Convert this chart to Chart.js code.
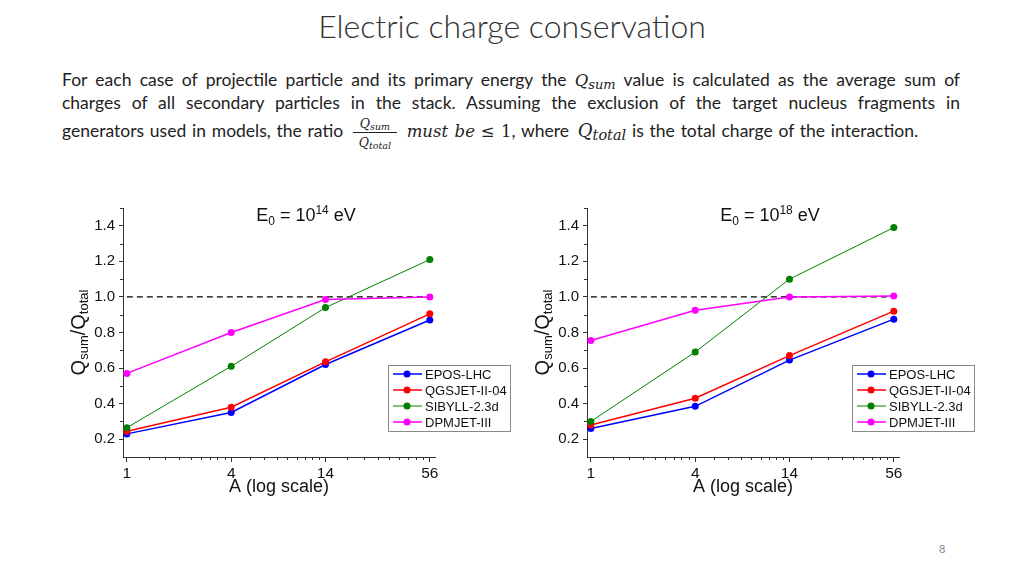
<!DOCTYPE html>
<html>
<head>
<meta charset="utf-8">
<script src="https://cdn.jsdelivr.net/npm/chart.js@4.4.0/dist/chart.umd.min.js"></script>
<style>
    body { margin: 0; width: 1024px; height: 576px; background: #fff; position: relative; overflow: hidden; font-family: Lato, sans-serif; color: #222; }
    #titulo { position: absolute; top: 6px; left: 0; width: 1024px; text-align: center; font-weight: 300; font-size: 32px; color: #333; }
    .linea { position: absolute; left: 62px; width: 898px; font-size: 17.5px; line-height: 20px; }
    .just { text-align: justify; text-align-last: justify; }
    .m { font-family: "DejaVu Serif", serif; font-style: italic; font-size: 16.5px; }
    .m sub { font-size: 13px; position: relative; top: 3px; vertical-align: baseline; }
    .qt { font-size: 18px; margin-left: 3px; }
    .qt sub { font-size: 14.5px; }
    .frac { display: inline-block; position: relative; width: 44px; height: 0; margin: 0 4px 0 4px; }
    .num { position: absolute; left: 0; right: 0; bottom: 4px; text-align: center; line-height: 15px; border-bottom: 1px solid #222; font-size: 12.5px; }
    .den { position: absolute; left: 0; right: 0; top: -2px; text-align: center; line-height: 15px; font-size: 12.5px; }
    .frac sub { font-size: 9.5px; top: 2px; }
    canvas { position: absolute; }
    #pagina { position: absolute; left: 939px; top: 542px; font-size: 11px; color: #888; }
</style>
</head>
<body>
<div id="titulo">Electric charge conservation</div>
<div class="linea just" style="top:70px">For each case of projectile particle and its primary energy the <span class="m">Q<sub>sum</sub></span> value is calculated as the average sum of</div>
<div class="linea just" style="top:93px">charges of all secondary particles in the stack. Assuming the exclusion of the target nucleus fragments in</div>
<div class="linea" style="top:121px; word-spacing:1.3px">generators used in models, the ratio <span class="frac m"><span class="num">Q<sub>sum</sub></span><span class="den">Q<sub>total</sub></span></span> <span class="m">must be</span> <span class="m" style="font-style:normal">≤ 1</span>, where <span class="m qt">Q<sub>total</sub></span> is the total charge of the interaction.</div>

<canvas id="grafica14" width="460" height="310" style="left:60px; top:195px"></canvas>
<canvas id="grafica18" width="460" height="310" style="left:524px; top:195px"></canvas>
<div id="pagina">8</div>

<script>
// numero masico del proyectil
const numerosMasicos = [1, 4, 14, 56];
const modelos = ["EPOS-LHC", "QGSJET-II-04", "SIBYLL-2.3d", "DPMJET-III"];
const colores = ["#0000ff", "#ff0000", "#008000", "#ff00ff"];
const grosores = [1.5, 1.5, 1, 1.5];

// Qsum/Qtotal, E0 = 10^14 eV
const epos14 = [0.23, 0.35, 0.62, 0.87];
const qgsjet14 = [0.245, 0.38, 0.635, 0.905];
const sibyll14 = [0.265, 0.61, 0.94, 1.21];
const dpmjet14 = [0.57, 0.80, 0.985, 1.0];

// Qsum/Qtotal, E0 = 10^18 eV
const epos18 = [0.26, 0.385, 0.645, 0.875];
const qgsjet18 = [0.28, 0.43, 0.67, 0.92];
const sibyll18 = [0.30, 0.69, 1.10, 1.39];
const dpmjet18 = [0.755, 0.925, 1.0, 1.005];

// linea de referencia Qsum/Qtotal = 1
const limiteX = [1, 56];
const limiteY = [1.0, 1.0];

const ticksX = [1, 4, 14, 56];
const ticksY = [0.2, 0.4, 0.6, 0.8, 1.0, 1.2, 1.4];
const menoresY = [0.3, 0.5, 0.7, 0.9, 1.1, 1.3, 1.5];

Chart.defaults.font.family = '"Liberation Sans", Arial, sans-serif';
Chart.defaults.color = "#111";

function textoRico(ctx, partes, cx, cy) {
    let ancho = 0;
    partes.forEach(p => {
        ctx.font = p.tam + 'px "Liberation Sans"';
        ancho += ctx.measureText(p.t).width;
    });
    let x = cx - ancho / 2;
    partes.forEach(p => {
        ctx.font = p.tam + 'px "Liberation Sans"';
        ctx.fillText(p.t, x, cy + p.dy);
        x += ctx.measureText(p.t).width;
    });
}

const ticksMenores = {
    id: "ticksMenores",
    afterDraw(chart) {
        const ctx = chart.ctx;
        const x = chart.scales.x;
        const y = chart.scales.y;
        ctx.save();
        ctx.strokeStyle = "#333";
        ctx.lineWidth = 1;
        ctx.beginPath();
        for (let i = 0; i < ticksX.length - 1; i++) {
            const paso = (ticksX[i + 1] - ticksX[i]) / 9;
            for (let k = 1; k < 9; k++) {
                const px = Math.round(x.getPixelForValue(ticksX[i] + k * paso)) + 0.5;
                ctx.moveTo(px, y.bottom);
                ctx.lineTo(px, y.bottom + 3);
            }
        }
        menoresY.forEach(v => {
            const py = Math.round(y.getPixelForValue(v)) + 0.5;
            ctx.moveTo(x.left, py);
            ctx.lineTo(x.left - 3, py);
        });
        ctx.stroke();
        ctx.restore();
    }
};

const leyenda = {
    id: "leyenda",
    afterDraw(chart) {
        const ctx = chart.ctx;
        const area = chart.chartArea;
        const bx = area.left + 265, by = area.top + 157, bw = 122, bh = 66;
        ctx.save();
        ctx.fillStyle = "#fff";
        ctx.fillRect(bx, by, bw, bh);
        ctx.strokeStyle = "#888";
        ctx.lineWidth = 1;
        ctx.strokeRect(bx + 0.5, by + 0.5, bw, bh);
        ctx.font = '13px "Liberation Sans"';
        ctx.textBaseline = "middle";
        let fila = 0;
        chart.data.datasets.forEach(ds => {
            if (!ds.enLeyenda) return;
            const cy = by + 9 + 16 * fila;
            ctx.strokeStyle = ds.borderColor;
            ctx.lineWidth = ds.borderWidth;
            ctx.beginPath();
            ctx.moveTo(bx + 5, cy);
            ctx.lineTo(bx + 34, cy);
            ctx.stroke();
            ctx.fillStyle = ds.borderColor;
            ctx.beginPath();
            ctx.arc(bx + 19, cy, 3.5, 0, Math.PI * 2);
            ctx.fill();
            ctx.fillStyle = "#111";
            ctx.fillText(ds.label, bx + 37, cy + 1);
            fila++;
        });
        ctx.restore();
    }
};

const titulos = {
    id: "titulos",
    afterDraw(chart, args, opts) {
        const ctx = chart.ctx;
        const area = chart.chartArea;
        ctx.save();
        ctx.fillStyle = "#111";
        ctx.textBaseline = "alphabetic";
        ctx.textAlign = "left";
        textoRico(ctx, [
            { t: "E", tam: 18, dy: 0 },
            { t: "0", tam: 12, dy: 4 },
            { t: " = 10", tam: 18, dy: 0 },
            { t: opts.exponente, tam: 12, dy: -7 },
            { t: " eV", tam: 18, dy: 0 }
        ], area.left + 183, area.top + 13);
        ctx.translate(area.left - 38, (area.top + area.bottom) / 2);
        ctx.rotate(-Math.PI / 2);
        textoRico(ctx, [
            { t: "Q", tam: 20, dy: 0 },
            { t: "sum", tam: 13, dy: 3 },
            { t: "/Q", tam: 20, dy: 0 },
            { t: "total", tam: 13, dy: 3 }
        ], 0, 0);
        ctx.restore();
    }
};

function puntos(valores) {
    return numerosMasicos.map((a, i) => ({ x: a, y: valores[i] }));
}

function crearGrafica(id, exponente, series) {
    const datasets = [{
        label: "limite",
        data: limiteX.map((a, i) => ({ x: a, y: limiteY[i] })),
        borderColor: "#000",
        borderWidth: 1.2,
        borderDash: [6, 4],
        pointRadius: 0,
        order: 10
    }];
    series.forEach((valores, i) => {
        datasets.push({
            label: modelos[i],
            data: puntos(valores),
            borderColor: colores[i],
            backgroundColor: colores[i],
            borderWidth: grosores[i],
            pointRadius: 3.5,
            pointBorderWidth: 0,
            pointHoverRadius: 3.5,
            order: 4 - i,
            enLeyenda: true
        });
    });

    new Chart(document.getElementById(id), {
        type: "line",
        data: { datasets: datasets },
        options: {
            responsive: false,
            animation: false,
            devicePixelRatio: 1,
            layout: { padding: { left: 0, top: 10, right: 85, bottom: 0 } },
            plugins: {
                legend: { display: false },
                tooltip: { enabled: false },
                titulos: { exponente: exponente }
            },
            scales: {
                x: {
                    type: "logarithmic",
                    min: 0.95,
                    max: 60,
                    afterBuildTicks: scale => { scale.ticks = ticksX.map(v => ({ value: v })); },
                    afterFit: scale => { scale.height = 48; },
                    ticks: {
                        autoSkip: false,
                        maxRotation: 0,
                        padding: 2,
                        font: { size: 15.5 },
                        callback: v => String(v)
                    },
                    grid: { drawOnChartArea: false, tickLength: 5, color: "#333" },
                    border: { display: true, color: "#333", width: 1 },
                    title: { display: true, text: "A (log scale)", font: { size: 18 }, padding: { top: 0, bottom: 7 } }
                },
                y: {
                    type: "linear",
                    min: 0.1,
                    max: 1.5,
                    afterBuildTicks: scale => { scale.ticks = ticksY.map(v => ({ value: v })); },
                    afterFit: scale => { scale.width = 63; },
                    ticks: {
                        padding: 4,
                        font: { size: 15 },
                        callback: v => v.toFixed(1)
                    },
                    grid: { drawOnChartArea: false, tickLength: 4, color: "#333" },
                    border: { display: true, color: "#333", width: 1 }
                }
            }
        },
        plugins: [ticksMenores, leyenda, titulos]
    });
}

crearGrafica("grafica14", "14", [epos14, qgsjet14, sibyll14, dpmjet14]);
crearGrafica("grafica18", "18", [epos18, qgsjet18, sibyll18, dpmjet18]);
</script>
</body>
</html>
